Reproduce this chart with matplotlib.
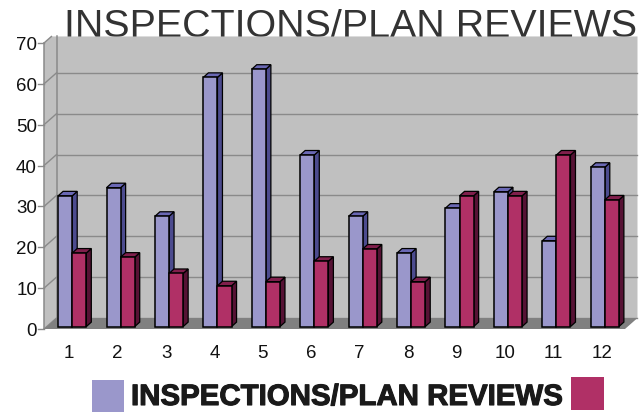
import matplotlib
matplotlib.use("Agg")
import matplotlib.pyplot as plt
import matplotlib.patheffects as pe
from matplotlib.patches import Polygon, Rectangle

categories = [str(i) for i in range(1, 13)]
series_a = [32, 34, 27, 61, 63, 42, 27, 18, 29, 33, 21, 39]
series_b = [18, 17, 13, 10, 11, 16, 19, 11, 32, 32, 42, 31]
y_ticks = [0, 10, 20, 30, 40, 50, 60, 70]
title = "INSPECTIONS/PLAN REVIEWS"

W, H = 640, 412
L, R, B, T = 44, 625, 329, 43
plt.rcParams["font.family"] = ["Liberation Sans", "DejaVu Sans"]
tick_size = 13.5

fig = plt.figure(figsize=(W / 100, H / 100), dpi=100)
ax = fig.add_axes([L / W, 1 - B / H, (R - L) / W, (B - T) / H])
ax.set_xlim(0.5, 12.5)
ax.set_ylim(0, 70)
ax.axis("off")
ax.set_zorder(2)

ux = (R - L) / 12
uy = (B - T) / 70
wx, wy = 12.5 / ux, 11 / uy
top = 71.6
x0, x1 = 0.5, 12.5


def poly(pts, fc, ec="none", lw=0.0, z=1):
    ax.add_patch(Polygon(pts, closed=True, fc=fc, ec=ec, lw=lw, zorder=z,
                         clip_on=False, joinstyle="miter"))


GRID = "#8A8A8A"
poly([(x0, 0), (x0, 70), (x0 + (top - 70) / wy * wx, top), (x1 + wx, top),
      (x1 + wx, wy), (x0 + wx, wy)], "#C0C0C0")
poly([(x0, 0), (x1, 0), (x1 + wx, wy), (x0 + wx, wy)], "#808080", z=1.5)
ax.plot([x0 + wx, x0 + wx], [wy, top], color=GRID, lw=1.1, zorder=1.2, clip_on=False)
ax.plot([x0, x0], [0, 70], color=GRID, lw=1.1, zorder=1.2, clip_on=False)
for v in y_ticks:
    if v + wy < top:
        ax.plot([x0 + wx, x1 + wx], [v + wy, v + wy], color=GRID, lw=1.0, zorder=1.2, clip_on=False)
        ax.plot([x0, x0 + wx], [v, v + wy], color=GRID, lw=1.0, zorder=1.2, clip_on=False)
    else:
        ax.plot([x0, x0 + (top - v) / wy * wx], [v, top], color=GRID, lw=1.0, zorder=1.2, clip_on=False)
    ax.plot([x0 - 6 / ux, x0], [v, v], color=GRID, lw=1.0, zorder=1.2, clip_on=False)
    ax.text(x0 - 7 / ux, v - 2.5 / uy, str(v), ha="right", va="center", fontsize=tick_size,
            color="#111111")

bw = 14.1 / ux
base_x = 4.0 / ux
base_y = 2.4 / uy
dx, dy = 5 / ux, 4.5 / uy
EDGE = "#000000"


def bar3d(left, v, front, side, cap, z):
    b = base_y
    x = left + base_x
    t = v + base_y
    poly([(x + bw, b), (x + bw + dx, b + dy), (x + bw + dx, t + dy), (x + bw, t)], side, EDGE, 0.9, z)
    poly([(x, t), (x + dx, t + dy), (x + bw + dx, t + dy), (x + bw, t)], cap, EDGE, 0.9, z)
    poly([(x, b), (x + bw, b), (x + bw, t), (x, t)], front, EDGE, 1.1, z)


for i, (a, b_) in enumerate(zip(series_a, series_b)):
    c = i + 1
    bar3d(c - bw, a, "#9A97CB", "#4C4B8E", "#6A68B4", 3 + i * 0.1)
    bar3d(c, b_, "#B03066", "#561234", "#801F4C", 3.05 + i * 0.1)
    ax.text(c + 1 / ux, -24 / uy, categories[i], ha="center", va="center", fontsize=tick_size,
            color="#111111")

fig.text(64 / W, 1 - 37 / H, title, fontsize=28.4, color="#333333", ha="left",
         va="baseline", zorder=1)

fig.patches.append(Rectangle((92 / W, 1 - 412 / H), 32 / W, 32 / H, transform=fig.transFigure,
                             fc="#9A97CB", ec="none"))
fig.patches.append(Rectangle((571 / W, 1 - 410 / H), 33 / W, 33 / H, transform=fig.transFigure,
                             fc="#B03066", ec="none"))
fig.text(131 / W, 1 - 405 / H, title, fontsize=21.2, fontweight="bold",
         color="#1a1a1a", ha="left", va="baseline",
         path_effects=[pe.withStroke(linewidth=0.8, foreground="#1a1a1a")])

fig.savefig("out.png", dpi=100, facecolor="white")
